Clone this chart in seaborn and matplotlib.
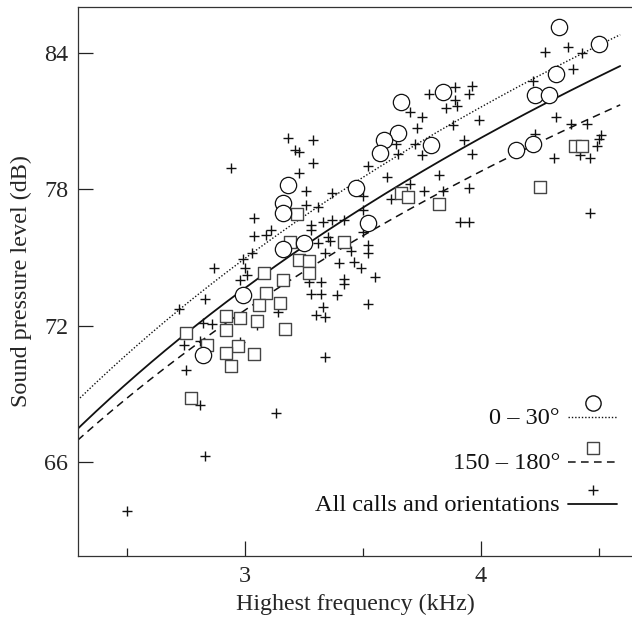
import numpy as np
import pandas as pd
import matplotlib
matplotlib.use("Agg")
import matplotlib.pyplot as plt
import seaborn as sns

# ===================== DATOS =====================
# 0 - 30 grados (círculos)
circ_khz = [4.33, 4.50, 4.32, 4.23, 4.29, 4.15, 4.22, 3.84, 3.66, 3.65, 3.59,
            3.57, 3.79, 3.47, 3.52, 3.25, 3.18, 3.16, 3.16, 3.16, 2.99, 2.82]
circ_db = [85.15, 84.41, 83.09, 82.16, 82.16, 79.74, 80.00, 82.31, 81.87, 80.50, 80.18,
           79.62, 79.96, 78.08, 76.51, 75.63, 78.20, 77.42, 76.95, 75.37, 73.37, 70.71]

# 150 - 180 grados (cuadrados)
sq_khz = [3.22, 3.19, 3.23, 3.27, 3.27, 3.08, 3.16, 3.09, 3.15, 3.06, 2.92, 2.98,
          3.05, 2.75, 2.92, 3.17, 2.84, 2.97, 2.92, 3.04, 2.94, 2.77, 3.42, 3.66,
          3.69, 3.82, 4.25, 4.40, 4.43]
sq_db = [76.92, 75.69, 74.89, 74.85, 74.34, 74.31, 74.01, 73.45, 73.00, 72.91, 72.41, 72.32,
         72.22, 71.69, 71.79, 71.85, 71.15, 71.11, 70.80, 70.75, 70.22, 68.79, 75.67, 77.83,
         77.66, 77.34, 78.10, 79.93, 79.93]

# todas las llamadas (cruces)
all_khz = [4.37, 4.43, 4.27, 4.39, 4.22, 4.32, 4.38, 4.45, 4.23, 4.51, 4.50, 4.49,
           4.31, 4.42, 4.46, 4.46,
           3.78, 3.89, 3.96, 3.89, 3.95, 3.85, 3.90, 3.70, 3.75, 3.73, 3.99, 3.88,
           3.72, 3.75, 3.93, 3.96, 3.82, 3.70, 3.76, 3.84, 3.95, 3.91, 3.95, 3.64,
           3.65, 3.52, 3.60, 3.50, 3.62, 3.50,
           3.18, 3.29, 3.21, 3.23, 3.29, 3.23, 3.26, 3.37, 3.26, 3.31, 3.28, 3.33,
           3.37, 3.42, 3.50, 3.28, 3.35, 3.31, 3.36, 3.34, 3.45, 3.52, 3.52, 3.40,
           3.46, 3.49, 3.55, 3.42, 3.42, 3.27, 3.32, 3.28, 3.32, 3.39, 3.33, 3.30,
           3.34, 3.52, 3.34,
           3.04, 3.04, 3.09, 3.11, 3.03, 2.99, 2.87, 3.00, 3.01, 2.98, 2.83, 2.72,
           2.82, 2.86, 2.74, 2.81, 2.75, 2.81, 3.13, 2.83, 3.14, 3.05, 2.98, 2.50,
           2.94]
all_db = [84.28, 84.01, 84.06, 83.31, 82.78, 81.19, 80.89, 80.89, 80.45, 80.40, 80.22, 79.92,
          79.39, 79.52, 79.39, 76.97,
          82.21, 82.52, 82.56, 81.94, 82.21, 81.59, 81.68, 81.41, 81.19, 80.71, 81.06, 80.84,
          80.00, 79.52, 80.18, 79.56, 78.64, 78.24, 77.93, 77.93, 78.07, 76.57, 76.57, 80.00,
          79.56, 79.04, 78.55, 77.71, 77.58, 77.10,
          80.27, 80.18, 79.74, 79.65, 79.17, 78.73, 77.93, 77.85, 77.32, 77.23, 76.44, 76.57,
          76.66, 76.66, 76.13, 76.22, 75.91, 75.64, 75.73, 75.20, 75.29, 75.56, 75.20, 74.76,
          74.81, 74.54, 74.15, 74.06, 73.84, 73.93, 73.93, 73.40, 73.40, 73.35, 72.82, 72.47,
          72.38, 72.96, 70.62,
          76.74, 75.95, 75.99, 76.22, 75.20, 74.94, 74.54, 74.54, 74.23, 74.01, 73.18, 72.74,
          72.12, 72.08, 71.15, 71.33, 70.05, 68.51, 68.16, 66.26, 72.60, 72.03, 71.28, 63.84,
          78.95]

# curvas ajustadas: dB = a + b * ln(kHz)
fit_names = ["0 – 30°", "150 – 180°", "All calls and orientations"]
fit_a = [49.51, 49.33, 48.39]
fit_b = [23.17, 21.26, 23.00]
fit_khz_range = (2.25, 4.59)

x_ticks = [3, 4]
y_ticks = [66, 72, 78, 84]

# ===================== ESTILO =====================
sns.set_theme(style="ticks")
plt.rcParams["font.family"] = ["Liberation Serif", "DejaVu Serif"]
plt.rcParams["font.size"] = 17

fig = plt.figure(figsize=(6.32, 6.19), dpi=100)
ax = fig.add_axes([78 / 632, 63 / 619, 554 / 632, 549 / 619])

# ===================== CURVAS =====================
xs = np.linspace(fit_khz_range[0], fit_khz_range[1], 200)
curvas = pd.concat([
    pd.DataFrame({"khz": xs, "db": a + b * np.log(xs), "grupo": n})
    for n, a, b in zip(fit_names, fit_a, fit_b)
], ignore_index=True)

estilos = {fit_names[0]: (0, (1, 1.4)), fit_names[1]: (0, (5, 3.5)), fit_names[2]: "-"}
anchos = {fit_names[0]: 1.0, fit_names[1]: 1.1, fit_names[2]: 1.3}
for n in fit_names:
    sns.lineplot(data=curvas[curvas["grupo"] == n], x="khz", y="db", ax=ax,
                 color="#111111", linestyle=estilos[n], linewidth=anchos[n],
                 zorder=2, legend=False)

# ===================== PUNTOS =====================
sns.scatterplot(x=all_khz, y=all_db, ax=ax, marker="+", s=58, color="#111111",
                linewidth=1.0, zorder=3)
sns.scatterplot(x=sq_khz, y=sq_db, ax=ax, marker="s", s=82, facecolor="white",
                edgecolor="#444444", linewidth=1.0, zorder=4)
sns.scatterplot(x=circ_khz, y=circ_db, ax=ax, marker="o", s=138, facecolor="white",
                edgecolor="#111111", linewidth=0.9, zorder=5)

# ===================== EJES =====================
ax.set_xlim(2.292, 4.64)
ax.set_ylim(61.85, 86.04)
ax.set_xticks(x_ticks)
ax.set_xticks([2.5, 3.5, 4.5], minor=True)
ax.set_yticks(y_ticks)
ax.set_xticklabels([str(t) for t in x_ticks])
ax.set_yticklabels([str(t) for t in y_ticks])
ax.tick_params(axis="both", which="major", direction="in", length=11, width=0.9,
               color="#222222", labelsize=17.4, pad=7)
ax.tick_params(axis="x", which="minor", direction="in", length=5.5, width=0.9,
               color="#222222")
ax.tick_params(axis="y", which="minor", left=False)
ax.set_xlabel("Highest frequency (kHz)", fontsize=17.3, labelpad=5)
ax.set_ylabel("Sound pressure level (dB)", fontsize=17.4, labelpad=9)
for lado in ["left", "bottom", "top"]:
    ax.spines[lado].set_visible(True)
    ax.spines[lado].set_color("#333333")
    ax.spines[lado].set_linewidth(0.9)
ax.spines["right"].set_visible(False)

# ===================== LEYENDA =====================
marcadores = [("o", 11, "#111111"), ("s", 9, "#444444"), ("+", 7.5, "#111111")]
leyenda_y = [0.2532, 0.1718, 0.0947]
for n, (m, ms, ec), yy in zip(fit_names, marcadores, leyenda_y):
    ax.plot([0.8845, 0.973], [yy, yy], transform=ax.transAxes, color="#111111",
            linestyle=estilos[n], linewidth=anchos[n], clip_on=False)
    ax.plot([0.9296], [yy + 0.025], transform=ax.transAxes, marker=m, markersize=ms,
            markerfacecolor="white", markeredgecolor=ec, color=ec,
            markeredgewidth=1.0, linestyle="none", clip_on=False)
    ax.text(0.870, yy - 0.003, n, transform=ax.transAxes, ha="right", va="center",
            fontsize=17.6, color="#111111")

fig.savefig("out.png", dpi=100)
